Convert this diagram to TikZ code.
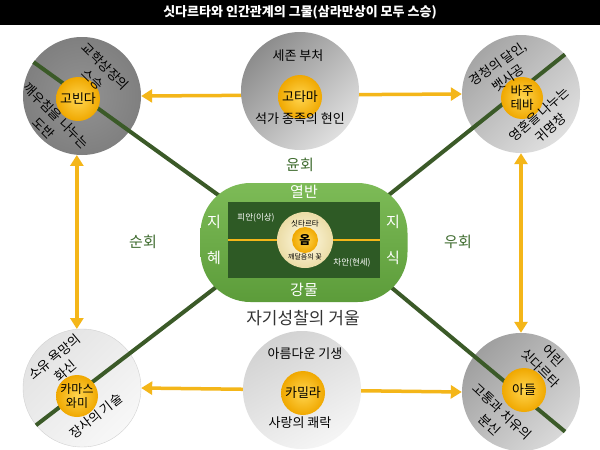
\documentclass[tikz,border=0pt]{standalone}
\usepackage{fontspec}
\setmainfont{Noto Sans CJK KR}
\usetikzlibrary{positioning,arrows.meta}
\definecolor{gold}{HTML}{F4B619}
\definecolor{tieGreen}{HTML}{3B5A28}
\definecolor{flowGreen}{HTML}{3E6B2E}
\definecolor{lakeTop}{HTML}{7DBB57}
\definecolor{lakeBot}{HTML}{5C9C3A}
\definecolor{isleGreen}{HTML}{2E5A25}
\definecolor{coreIn}{HTML}{FFD54F}
\definecolor{coreOut}{HTML}{F0A800}
\definecolor{creamIn}{HTML}{FFFAE3}
\definecolor{creamOut}{HTML}{EBDCA6}

\begin{document}
\begin{tikzpicture}[x=1pt,y=-1pt]
	\tikzstyle{disc}=[circle, minimum size=118pt, inner sep=0pt]
	\tikzstyle{core}=[circle, minimum size=44pt, inner sep=0pt, inner color=coreIn, outer color=coreOut,
	font=\fontsize{13}{15}\selectfont, align=center]
	\tikzstyle{link}=[line width=3.5pt, draw=gold, {Triangle[length=11pt,width=13pt]}-{Triangle[length=11pt,width=13pt]}]
	\tikzstyle{tie}=[line width=4pt, draw=tieGreen]
	\tikzstyle{says}=[font=\fontsize{13}{18}\selectfont, align=center, inner sep=0pt]
	\tikzstyle{flow}=[font=\fontsize{15}{18}\selectfont, text=flowGreen]
	\tikzstyle{band}=[font=\fontsize{15}{18}\selectfont, text=white]
	\tikzstyle{shore}=[font=\fontsize{8.5}{10}\selectfont, text=white]
	\useasboundingbox (0,0) rectangle (600,450);
	\fill[white] (0,0) rectangle (600,450);
	\node (title) [fill=black, minimum width=600pt, minimum height=25pt, text=white,
	font=\fontsize{13}{15}\selectfont\bfseries] at (300,12.5) {싯다르타와 인간관계의 그물(삼라만상이 모두 스승)};
	
	% corner circles
	\node (govinda) [disc, inner color=gray!85, outer color=gray!100] at (82,96) {};
	\node (bajudeva) [disc, top color=gray!70, bottom color=gray!25, shading angle=45] at (521,94) {};
	\node (kamaswami) [disc, draw=gray!35, top color=gray!22, bottom color=gray!6, shading angle=45] at (82,388) {};
	\node (son) [disc, top color=gray!75, bottom color=gray!30, shading angle=45] at (521,392) {};
	
	\draw[link] (govinda.east) -- (bajudeva.west);
	\draw[link] (kamaswami.east) -- (son.west);
	\draw[link] (govinda.-95) -- (kamaswami.95);
	\draw[link] (bajudeva.south) -- (son.north);
	
	\node (gotama) [disc, top color=gray!90, bottom color=gray!25, shading angle=45] at (300,91) {};
	\node (kamala) [disc, top color=gray!35, bottom color=gray!8, shading angle=30] at (302,390) {};
	
	% the four ties to the lake
	\coordinate (nw) at (228,202);
	\coordinate (ne) at (380,202);
	\coordinate (sw) at (228,278);
	\coordinate (se) at (380,278);
	\draw[tie] (govinda.145) -- (nw);
	\draw[tie] (bajudeva.42) -- (ne);
	\draw[tie] (kamaswami.219) -- (sw);
	\draw[tie] (son.-42) -- (se);
	
	% lake in the middle
	\node (lake) [rounded corners=50pt, minimum width=207pt, minimum height=119pt, top color=lakeTop, bottom color=lakeBot] at (304,242.5) {};
	\node (isle) [minimum width=152pt, minimum height=76pt, fill=isleGreen, inner sep=0pt] at (304,240) {};
	\draw[line width=2pt, draw=gold] (isle.west) -- (isle.east);
	\node (lotus) [circle, minimum size=56pt, inner color=creamIn, outer color=creamOut] at (305,240) {};
	\node (om) [core, minimum size=26pt, font=\fontsize{12}{14}\selectfont\bfseries] at (305,240) {옴};
	\node (siddhartha) [font=\fontsize{7.5}{9}\selectfont] at (305,224) {싯타르타};
	\node (flower) [font=\fontsize{7}{9}\selectfont] at (305,257) {깨달음의 꽃};
	\node (beyond) [shore] at (256,218) {피안(이상)};
	\node (here) [shore] at (352,263) {차안(현세)};
	\node (nirvana) [band] at (304,192) {열반};
	\node (river) [band] at (304,290) {강물};
	\node (ji1) [band] at (214,222) {지};
	\node (hye) [band] at (214,258) {혜};
	\node (ji2) [band] at (393,222) {지};
	\node (sik) [band] at (393,258) {식};
	
	% friends
	\node (govindaCore) [core] at (78,99) {고빈다};
	\node (gotamaCore) [core] at (300,97) {고타마};
	\node (bajudevaCore) [core, minimum size=42pt, font=\fontsize{12.5}{14}\selectfont] at (522,98) {바주\\테바};
	\node (kamaswamiCore) [core, minimum size=42pt, font=\fontsize{12}{14}\selectfont] at (77,396) {카마스\\와미};
	\node (kamalaCore) [core] at (303,393) {카밀라};
	\node (sonCore) [core] at (524,390) {아들};
	
	\node (govindaUp) [says, rotate=-45] at (99,73) {교학상장의\\스승};
	\node (govindaDown) [says, rotate=-45] at (50,122) {깨우침을 나누는\\도반};
	\node (gotamaUp) [says] at (298,56) {세존 부처};
	\node (gotamaDown) [says] at (300,119) {석가 종족의 현인};
	\node (bajudevaUp) [says, rotate=35] at (503,71) {경청의 달인,\\뱃사공};
	\node (bajudevaDown) [says, rotate=42] at (545,121) {영혼을 나누는\\귀명창};
	\node (kamaswamiUp) [says, rotate=40] at (60,364) {소유 욕망의\\화신};
	\node (kamaswamiDown) [says, rotate=38] at (96,416) {장사의 기술};
	\node (kamalaUp) [says] at (305,354) {아름다운 기생};
	\node (kamalaDown) [says] at (300,423) {사랑의 쾌락};
	\node (sonUp) [says, rotate=-45] at (547,362) {어린\\싯다르타};
	\node (sonDown) [says, rotate=-43] at (496,418) {고통과 치유의\\분신};
	
	\node (samsara) [flow] at (300,165) {윤회};
	\node (round) [flow] at (143,242) {순회};
	\node (detour) [flow] at (458,242) {우회};
	\node (mirror) [font=\fontsize{17}{20}\selectfont, text=black!80] at (303,318) {자기성찰의 거울};
\end{tikzpicture}
\end{document}
